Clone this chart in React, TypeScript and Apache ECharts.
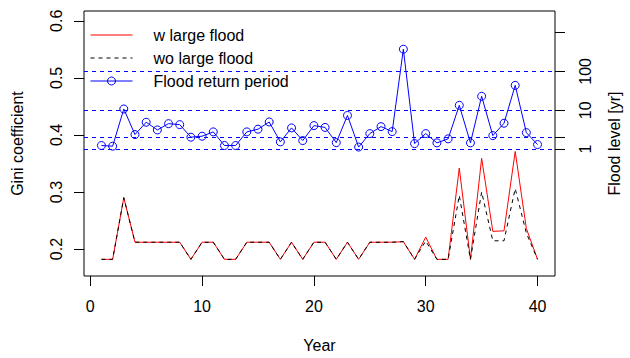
import React, { useEffect, useRef } from "react";
import * as echarts from "echarts";

const years = [1, 2, 3, 4, 5, 6, 7, 8, 9, 10, 11, 12, 13, 14, 15, 16, 17, 18, 19, 20, 21, 22, 23, 24, 25, 26, 27, 28, 29, 30, 31, 32, 33, 34, 35, 36, 37, 38, 39, 40];
const giniWithLarge = [0.182, 0.182, 0.29, 0.212, 0.212, 0.212, 0.212, 0.212, 0.182, 0.212, 0.212, 0.182, 0.182, 0.212, 0.212, 0.212, 0.182, 0.212, 0.182, 0.212, 0.212, 0.182, 0.212, 0.182, 0.212, 0.212, 0.212, 0.213, 0.182, 0.221, 0.182, 0.182, 0.342, 0.182, 0.359, 0.231, 0.232, 0.371, 0.236, 0.182];
const giniWithoutLarge = [0.182, 0.182, 0.29, 0.212, 0.212, 0.212, 0.212, 0.212, 0.182, 0.212, 0.212, 0.182, 0.182, 0.212, 0.212, 0.212, 0.182, 0.212, 0.182, 0.212, 0.212, 0.182, 0.212, 0.182, 0.212, 0.212, 0.212, 0.213, 0.182, 0.214, 0.182, 0.182, 0.294, 0.182, 0.3, 0.2145, 0.2145, 0.306, 0.228, 0.182];
const returnPeriod = [1.24, 1.19, 10.8, 2.37, 4.92, 3.12, 4.53, 4.27, 2.03, 2.15, 2.78, 1.24, 1.24, 2.78, 3.26, 5.0, 1.54, 3.52, 1.66, 4.03, 3.62, 1.47, 7.36, 1.13, 2.51, 3.8, 2.83, 373, 1.39, 2.51, 1.45, 1.84, 13.4, 1.45, 22.9, 2.23, 4.64, 43.8, 2.66, 1.31];
const xTicks = [0, 10, 20, 30, 40];
const leftTicks = [0.2, 0.3, 0.4, 0.5, 0.6];
const rightTickYears = [1, 2, 10, 100, 1000];
const rightLabelYears = [1, 10, 100];
const refLineYears = [1, 2, 10, 100];

const FONT = "Liberation Sans, Arial, sans-serif";
const CLEAR = "rgba(0,0,0,0)";

export default function App() {
  const ref = useRef<HTMLDivElement>(null);
  useEffect(() => {
    if (!ref.current) return;
    const chart = echarts.init(ref.current, null, { renderer: "svg" });
    const lg = (v: number) => Math.log10(v);
    chart.setOption({
      animation: false,
      backgroundColor: "#ffffff",
      grid: {
        show: true,
        left: 84,
        top: 11,
        width: 478,
        height: 265,
        borderColor: "#000",
        borderWidth: 1,
        backgroundColor: "transparent",
      },
      legend: {
        show: true,
        orient: "vertical",
        left: 90,
        top: 27,
        padding: 0,
        itemWidth: 42,
        itemHeight: 10,
        itemGap: 7,
        lineStyle: { width: 1 },
        itemStyle: { borderWidth: 1 },
        textStyle: { fontFamily: FONT, fontSize: 16, color: "#000", padding: [0, 0, 0, 16] },
        data: ["w large flood", "wo large flood", "Flood return period"],
      },
      xAxis: {
        type: "value",
        min: -0.56,
        max: 41.56,
        name: "Year",
        nameLocation: "middle",
        nameGap: 61,
        nameTextStyle: { fontFamily: FONT, fontSize: 16, color: "#000", verticalAlign: "top" },
        axisLine: { show: false, onZero: false },
        axisTick: { show: true, length: 10, customValues: xTicks, lineStyle: { color: "#000" } },
        axisLabel: {
          customValues: xTicks,
          margin: 22,
          fontFamily: FONT,
          fontSize: 16,
          color: "#000",
        },
        splitLine: { show: false },
      },
      yAxis: [
        {
          type: "value",
          min: 0.1528,
          max: 0.6172,
          name: "Gini coefficient",
          nameLocation: "middle",
          nameGap: 59,
          nameTextStyle: { fontFamily: FONT, fontSize: 16, color: "#000" },
          axisLine: { show: false, onZero: false },
          axisTick: { show: true, length: 10, customValues: leftTicks, lineStyle: { color: "#000" } },
          axisLabel: {
            customValues: leftTicks,
            rotate: 90,
            margin: 20,
            fontFamily: FONT,
            fontSize: 16,
            color: "#000",
            formatter: (v: number) => v.toFixed(1),
          },
          splitLine: { show: false },
        },
        {
          type: "value",
          position: "right",
          min: -3.265,
          max: 3.555,
          name: "Flood level [yr]",
          nameLocation: "middle",
          nameGap: 51,
          nameRotate: 90,
          nameTextStyle: { fontFamily: FONT, fontSize: 16, color: "#000" },
          axisLine: { show: false, onZero: false },
          axisTick: { show: true, length: 10, customValues: rightTickYears.map(lg), lineStyle: { color: "#000" } },
          axisLabel: {
            customValues: rightLabelYears.map(lg),
            rotate: 90,
            margin: 22,
            fontFamily: FONT,
            fontSize: 16,
            color: "#000",
            formatter: (v: number) => String(Math.round(Math.pow(10, v))),
          },
          splitLine: { show: false },
        },
      ],
      series: [
        {
          name: "w large flood",
          type: "line",
          yAxisIndex: 0,
          data: years.map((y, i) => [y, giniWithLarge[i]]),
          symbol: "none",
          lineStyle: { color: "#ff0000", width: 1 },
          itemStyle: { color: CLEAR, borderWidth: 0 },
        },
        {
          name: "wo large flood",
          type: "line",
          yAxisIndex: 0,
          data: years.map((y, i) => [y, giniWithoutLarge[i]]),
          symbol: "none",
          lineStyle: { color: "#000000", width: 1, type: [4, 4] },
          itemStyle: { color: CLEAR, borderWidth: 0 },
        },
        {
          name: "Flood return period",
          type: "line",
          yAxisIndex: 1,
          data: years.map((y, i) => [y, lg(returnPeriod[i])]),
          symbol: "circle",
          symbolSize: 8,
          lineStyle: { color: "#0000ff", width: 1 },
          itemStyle: { color: CLEAR, borderColor: "#0000ff", borderWidth: 1 },
          markLine: {
            silent: true,
            symbol: ["none", "none"],
            label: { show: false },
            lineStyle: { color: "#0000ff", width: 1, type: [4, 4] },
            data: refLineYears.map((v) => ({ yAxis: lg(v) })),
          },
        },
      ],
    });
    return () => chart.dispose();
  }, []);
  return (
    <div
      ref={ref}
      style={{ position: "absolute", left: 0, top: 0, width: 630, height: 358 }}
    />
  );
}
